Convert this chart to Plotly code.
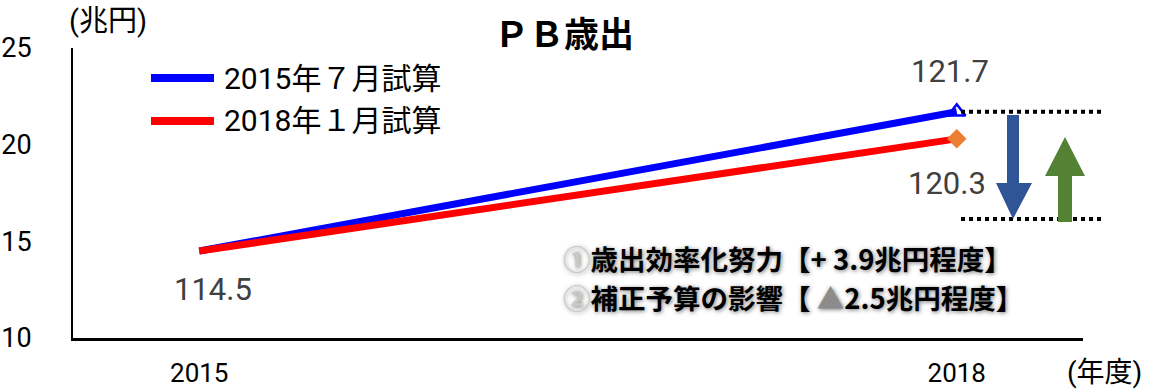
import plotly.graph_objects as go

# --- data -------------------------------------------------------------
years = [2015, 2018]
plan_2015_jul = [114.5, 121.7]   # 2015年7月試算
plan_2018_jan = [114.5, 120.3]   # 2018年1月試算
series_names = ["2015年７月試算", "2018年１月試算"]
y_tickvals = [110, 115, 120, 125]
y_ticktext = ["10", "15", "20", "25"]
x_ticktext = ["2015", "2018"]
notes = ["①歳出効率化努力【+ 3.9兆円程度】", "②補正予算の影響【 ▲2.5兆円程度】"]

W, H = 1153, 389
ML, MR, MT, MB = 73, 70, 48, 51
PW, PH = W - ML - MR, H - MT - MB

BLUE = "#0000FF"
RED = "#FF0000"
FONT = "Roboto, Noto Sans CJK JP"


def px(x):
    return (x - ML) / PW


def py(y):
    return (H - MB - y) / PH


fig = go.Figure()

fig.add_trace(go.Scatter(x=years, y=plan_2015_jul, mode="lines", name=series_names[0],
                         line=dict(color=BLUE, width=7), showlegend=False))
fig.add_trace(go.Scatter(x=years, y=plan_2018_jan, mode="lines", name=series_names[1],
                         line=dict(color=RED, width=7), showlegend=False))
# end-point markers
fig.add_trace(go.Scatter(x=years[-1:], y=plan_2015_jul[-1:], mode="markers",
                         marker=dict(symbol="triangle-up-open", size=15, color=BLUE,
                                     line=dict(width=2.5, color=BLUE)),
                         showlegend=False, hoverinfo="skip"))
fig.add_trace(go.Scatter(x=years[-1:], y=plan_2018_jan[-1:], mode="markers",
                         marker=dict(symbol="diamond", size=15, color="#ED7D31"),
                         showlegend=False, hoverinfo="skip"))

annotations = []
label_font = dict(family=FONT, size=31, color="#404040")
annotations.append(dict(x=years[0], y=plan_2015_jul[0], text=f"{plan_2015_jul[0]:.1f}",
                        showarrow=False, xshift=14, yshift=-38, font=label_font))
annotations.append(dict(x=years[-1], y=plan_2015_jul[-1], text=f"{plan_2015_jul[-1]:.1f}",
                        showarrow=False, xshift=-7, yshift=40, font=label_font))
annotations.append(dict(x=years[-1], y=plan_2018_jan[-1], text=f"{plan_2018_jan[-1]:.1f}",
                        showarrow=False, xshift=-10, yshift=-45, font=label_font))


def paper_text(x, y, text, font, xanchor="center"):
    return dict(xref="paper", yref="paper", x=px(x), y=py(y), text=text, showarrow=False,
                xanchor=xanchor, yanchor="middle", font=font)


# title and unit labels
annotations.append(paper_text(564, 31, "<b>ＰＢ歳出</b>",
                              dict(family="Noto Sans CJK JP", size=35, color="black")))
annotations.append(paper_text(108, 21, "(兆円)", dict(family=FONT, size=29, color="black")))
annotations.append(paper_text(1104, 372, "(年度)", dict(family=FONT, size=28, color="black")))

# legend
shapes = []
for name, color, yy in [(series_names[0], BLUE, 78), (series_names[1], RED, 121)]:
    shapes.append(dict(type="line", xref="paper", yref="paper", x0=px(151), x1=px(214),
                       y0=py(yy), y1=py(yy), line=dict(color=color, width=8)))
    annotations.append(paper_text(222, yy, name, dict(family=FONT, size=30, color="black"),
                                  xanchor="left"))

# notes
for txt, yy in zip(notes, [258, 297]):
    t = txt.replace("①", "<span style='color:#c8c8c8'>①</span>")
    t = t.replace("②", "<span style='color:#c8c8c8'>②</span>")
    t = t.replace("▲", "<span style='color:#8c8c8c'>▲</span>")
    annotations.append(paper_text(561, yy, f"<b>{t}</b>",
                                  dict(family="Noto Sans CJK JP", size=27.5, color="black",
                                       shadow="1px 1px 4px #777"),
                                  xanchor="left"))

# dotted reference lines
top_y = py(H - MB - (plan_2015_jul[-1] - y_tickvals[0]) / (y_tickvals[-1] - y_tickvals[0]) * PH)
for y0 in [top_y, py(219)]:
    shapes.append(dict(type="line", xref="paper", yref="paper", x0=px(961), x1=px(1103),
                       y0=y0, y1=y0, line=dict(color="black", width=4, dash="4px,4px")))


def poly(points):
    return "M " + " L ".join(f"{px(a):.5f},{py(b):.5f}" for a, b in points) + " Z"


# down arrow (blue) and up arrow (green)
down = [(1007, 115), (1019, 115), (1019, 183), (1032, 183), (1013, 219), (996, 183), (1007, 183)]
up = [(1058, 222), (1072, 222), (1072, 176), (1085, 176), (1065, 137), (1045, 176), (1058, 176)]
shapes.append(dict(type="path", xref="paper", yref="paper", path=poly(down),
                   fillcolor="#2F5597", line=dict(width=0)))
shapes.append(dict(type="path", xref="paper", yref="paper", path=poly(up),
                   fillcolor="#548235", line=dict(width=0)))

fig.update_layout(
    width=W, height=H,
    margin=dict(l=ML, r=MR, t=MT, b=MB, autoexpand=False),
    paper_bgcolor="white", plot_bgcolor="white",
    showlegend=False,
    annotations=annotations, shapes=shapes,
    xaxis=dict(range=[2014.5, 2018.5], tickvals=years, ticktext=x_ticktext, automargin=False,
               showgrid=False, zeroline=False, showline=True, linecolor="black", linewidth=2.5,
               ticks="", ticklabelstandoff=10,
               tickfont=dict(family=FONT, size=26, color="black")),
    yaxis=dict(range=[y_tickvals[0], y_tickvals[-1]], tickvals=y_tickvals, ticktext=y_ticktext,
               automargin=False,
               showgrid=False, zeroline=False, showline=True, linecolor="black", linewidth=2,
               ticks="", ticklabelstandoff=34,
               tickfont=dict(family=FONT, size=27, color="black")),
)

fig.write_html("out.html")
